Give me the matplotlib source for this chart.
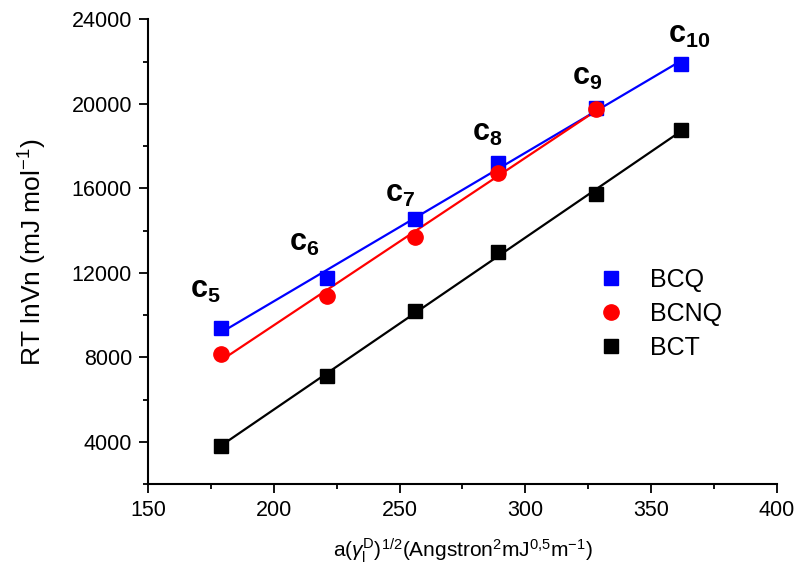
import numpy as np
import matplotlib
matplotlib.use("Agg")
import matplotlib.pyplot as plt
from matplotlib.ticker import MultipleLocator

plt.rcParams['font.family'] = ['Liberation Sans', 'DejaVu Sans']
plt.rcParams['mathtext.fontset'] = 'custom'
plt.rcParams['mathtext.rm'] = 'Liberation Sans'
plt.rcParams['mathtext.it'] = 'Liberation Sans:italic'
plt.rcParams['mathtext.bf'] = 'Liberation Sans:bold'

# data
x = [179, 221, 256, 289, 328, 362]
bcq = [9370, 11740, 14560, 17180, 19790, 21880]
bcnq = [8150, 10900, 13710, 16710, 19780]
bct = [3810, 7130, 10200, 12970, 15730, 18760]
carbons = ['5', '6', '7', '8', '9', '10']

fig = plt.figure(figsize=(7.96, 5.69), dpi=100)
ax = fig.add_axes([0.186, 0.149, 0.790, 0.817])

def fit_line(xs, ys, color):
    k, b = np.polyfit(xs, ys, 1)
    xx = np.array([xs[0], xs[-1]])
    ax.plot(xx, k * xx + b, color=color, lw=1.6, zorder=2)

fit_line(x, bcq, 'blue')
fit_line(x[:len(bcnq)], bcnq, 'red')
fit_line(x, bct, 'black')

ax.plot(x, bcq, 's', color='blue', ms=9.5, ls='none', label='BCQ', zorder=3)
ax.plot(x[:len(bcnq)], bcnq, 'o', color='red', ms=11, ls='none', label='BCNQ', zorder=4)
ax.plot(x, bct, 's', color='black', ms=9.5, ls='none', label='BCT', zorder=3)

# carbon number labels above the BCQ points
offsets = [(-16, 38), (-22, 35), (-15, 25), (-10, 30), (-9, 31), (8, 29)]
for xi, yi, n, off in zip(x, bcq, carbons, offsets):
    ax.annotate(r'$\mathbf{c_{%s}}$' % n, (xi, yi), xytext=off,
                textcoords='offset pixels', ha='center', va='center',
                fontsize=22)

ax.set_xlim(150, 400)
ax.set_ylim(2000, 24000)
ax.xaxis.set_major_locator(MultipleLocator(50))
ax.xaxis.set_minor_locator(MultipleLocator(25))
ax.yaxis.set_major_locator(MultipleLocator(4000))
ax.yaxis.set_minor_locator(MultipleLocator(2000))
ax.tick_params(which='major', length=6.5, width=1.3, labelsize=15.5, direction='out', pad=5)
ax.tick_params(which='minor', length=3.5, width=1.3, direction='out')
for s in ['left', 'bottom']:
    ax.spines[s].set_linewidth(1.5)
for s in ['right', 'top']:
    ax.spines[s].set_visible(False)

ax.set_xlabel(r'a($\gamma_\mathregular{l}^\mathregular{D}$)$^\mathregular{1/2}$'
              r'(Angstron$^\mathregular{2}$mJ$^\mathregular{0{,}5}$m$^\mathregular{-1}$)',
              fontsize=15, labelpad=11)
ax.set_ylabel(r'RT lnVn (mJ mol$^\mathregular{-1}$)', fontsize=19, labelpad=16)

ax.legend(loc='center left', bbox_to_anchor=(0.716, 0.367), frameon=False,
          fontsize=18, handlelength=1.0, handletextpad=1.05, labelspacing=0.4,
          borderpad=0, borderaxespad=0, numpoints=1)

fig.savefig('out.png', dpi=100)
